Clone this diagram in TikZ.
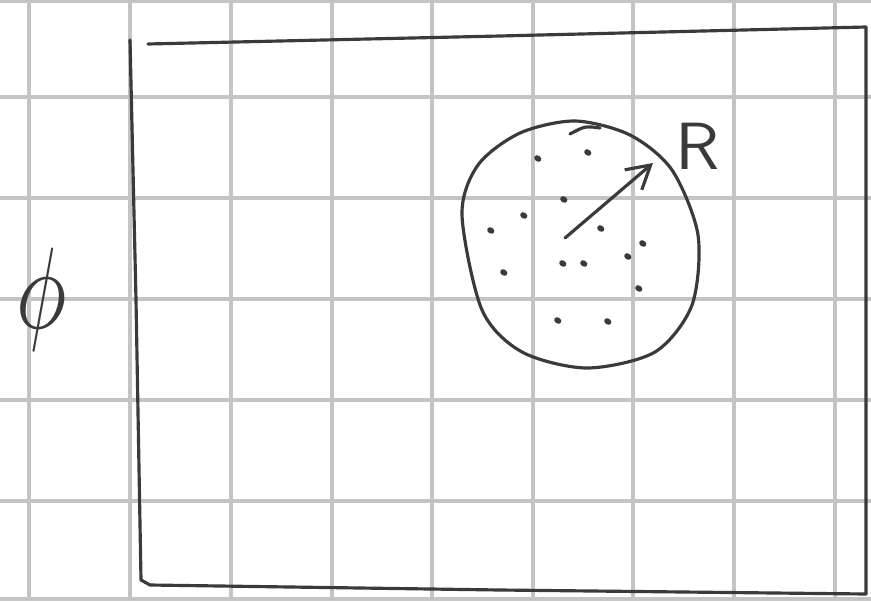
\documentclass[tikz,border=0pt]{standalone}
\usepackage{amsmath, amssymb}
\usepackage{tikz}
\usepackage{xcolor}
\usetikzlibrary{arrows.meta, positioning, calc}
\definecolor{inkgray}{HTML}{3A3A3A}
\definecolor{gridgray}{HTML}{C4C4C4}

\begin{document}
\begin{tikzpicture}[x=0.02cm, y=-0.02cm,
    gridline/.style={gridgray, line width=2.2pt},
    pen/.style={inkgray, line width=1.8pt, line cap=round, line join=round},
    speck/.style={inkgray, line width=3.2pt, line cap=round}]
    \useasboundingbox (0,0) rectangle (871,601);
    \fill[white] (0,0) rectangle (871,601);
    % graph paper
    \foreach \gx in {29,130,231,332,432,533,633,734,835}
        \draw[gridline] (\gx,0) -- (\gx,601);
    \foreach \gy in {1,97,198,299,400,501,599}
        \draw[gridline] (0,\gy) -- (871,\gy);
    % outer frame
    \draw[pen] (130,40) -- (136,300) -- (141,580) -- (150,585)
        -- (500,590) -- (866,594) -- (866,300) -- (866,27)
        -- (500,36) -- (148,44);
    % domain
    \draw[pen] plot[smooth cycle] coordinates {(462,215) (478,165) (520,133)
        (575,121) (630,135) (672,170) (698,235) (692,305) (655,352)
        (587,368) (522,352) (482,310)};
    \draw[pen] (570,134) .. controls (585,126) .. (600,128);
    % specks
    \foreach \sx/\sy in {537/158, 587/152, 563/199, 490/230, 600/228, 503/272,
        562/263, 583/263, 627/256, 638/288, 557/320, 607/321, 523/215, 642/243}
        \draw[speck] (\sx,\sy) -- ++(1.5,1);
    % radius
    \coordinate (ctr) at (565,238);
    \coordinate (rim) at (653,163);
    \draw[pen, -{Straight Barb[length=13pt, width=15pt]}] (ctr) -- (rim);
    \node[inkgray, font=\sffamily] (rlab) at (698,146) {\scalebox{3.9}[3.8]{R}};
    % field label
    \node[inkgray, inner sep=0pt] (philab) at (42,300)
        {\scalebox{4.8}[6.6]{$\phi$}};
\end{tikzpicture}
\end{document}
